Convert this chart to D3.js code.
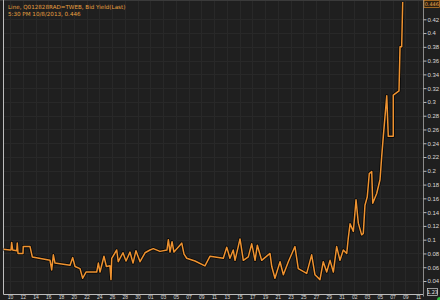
<!DOCTYPE html>
<html>
<head>
<meta charset="utf-8">
<script src="https://cdn.jsdelivr.net/npm/d3@7"></script>
<style>
  html, body { margin: 0; padding: 0; background: #1f1f1f; overflow: hidden; }
  svg { display: block; font-family: "DejaVu Sans", sans-serif; }
</style>
</head>
<body>
<div id="chart"></div>
<script>
// title lines
const titleLines = ['Line, Q012828RAD=TWEB, Bid Yield(Last)', '5:30 PM 10/8/2013, 0.446'];

// x axis tick labels (day of month)
const xLabels = ['10','12','14','16','18','20','22','24','26','28','30',
  '01','03','05','07','09','11','13','15','17','19','21','23','25','27','29','31',
  '02','03','05','07','09','11'];

// position of each point along the date axis (in tick units) and bid yield
const tPos = [-0.53, 0, 0.08, 0.13, 0.21, 0.53, 0.57, 0.63, 1.02, 1.04, 1.57, 1.75,
  3.14, 3.27, 3.40, 3.53, 4.71, 4.92, 5.10, 5.49, 5.70, 5.96, 6.80, 6.93, 7.06, 7.37,
  7.56, 7.84, 7.92, 7.98, 8.37, 8.49, 8.86, 9.10, 9.41, 9.65, 9.88, 10.20, 10.59, 10.98,
  11.24, 11.76, 12.31, 12.42, 12.55, 12.71, 12.86, 13.33, 13.47, 13.65, 13.86, 14.51,
  15.29, 15.69, 16.73, 17.00, 17.25, 17.51, 17.65, 18.04, 18.30, 18.69, 18.96, 19.22,
  19.40, 19.74, 20.39, 20.53, 20.78, 21.18, 21.44, 21.83, 22.35, 22.61, 23.27, 23.66,
  23.92, 24.31, 24.57, 24.84, 25.10, 25.36, 25.62, 25.88, 26.14, 26.41, 26.53, 26.67,
  26.93, 27.14, 27.32, 27.58, 27.71, 27.84, 28.02, 28.18, 28.37, 28.45, 28.76, 29.02,
  29.15, 29.28, 29.55, 29.67, 30.06, 30.06, 30.51, 30.59, 30.72, 30.80];

const bidYield = [0.086, 0.085, 0.085, 0.096, 0.085, 0.084, 0.095, 0.080, 0.080, 0.090, 0.090, 0.075,
  0.070, 0.056, 0.078, 0.066, 0.063, 0.074, 0.061, 0.058, 0.044, 0.053, 0.053, 0.066, 0.053, 0.076,
  0.061, 0.062, 0.042, 0.073, 0.085, 0.068, 0.081, 0.069, 0.082, 0.066, 0.084, 0.068, 0.081, 0.085,
  0.087, 0.083, 0.085, 0.100, 0.082, 0.097, 0.082, 0.092, 0.095, 0.079, 0.073, 0.069,
  0.062, 0.076, 0.073, 0.089, 0.073, 0.085, 0.070, 0.101, 0.070, 0.075, 0.094, 0.070,
  0.092, 0.070, 0.080, 0.061, 0.044, 0.068, 0.049, 0.068, 0.090, 0.058, 0.051, 0.078,
  0.049, 0.042, 0.068, 0.053, 0.070, 0.053, 0.090, 0.070, 0.085, 0.080, 0.102, 0.123,
  0.112, 0.158, 0.124, 0.107, 0.109, 0.150, 0.162, 0.196, 0.199, 0.153, 0.167, 0.187,
  0.220, 0.250, 0.309, 0.250, 0.250, 0.310, 0.316, 0.380, 0.380, 0.445];

// y axis ticks
const yTicks = d3.range(0.04, 0.4201, 0.02).map(d => +d.toFixed(2));
const lastValue = 0.446;

const width = 440, height = 300;
const plotLeft = 3.5, plotRight = 423.5, plotTop = 0, plotBottom = 294.5;

const svg = d3.select('#chart').append('svg')
    .attr('width', width)
    .attr('height', height);

svg.append('rect')
    .attr('width', width).attr('height', height)
    .attr('fill', '#1f1f1f');

const xScale = d3.scaleLinear()
    .domain([0, xLabels.length - 1])
    .range([10, 418]);

const yScale = d3.scaleLinear()
    .domain([0.04, 0.448])
    .range([281, 0]);

/* grid lines */
svg.append('g')
    .selectAll('line')
    .data(xLabels)
    .join('line')
    .attr('x1', (d, i) => Math.round(xScale(i)) + 0.5)
    .attr('x2', (d, i) => Math.round(xScale(i)) + 0.5)
    .attr('y1', plotTop).attr('y2', plotBottom)
    .attr('stroke', '#282828');

svg.append('g')
    .selectAll('line')
    .data(yTicks)
    .join('line')
    .attr('x1', plotLeft).attr('x2', plotRight)
    .attr('y1', d => Math.round(yScale(d)) + 0.5)
    .attr('y2', d => Math.round(yScale(d)) + 0.5)
    .attr('stroke', '#282828');

/* frame */
svg.append('line').attr('x1', 0).attr('x2', plotRight).attr('y1', 0.5).attr('y2', 0.5).attr('stroke', '#3a3a3a');
svg.append('line').attr('x1', plotLeft).attr('x2', plotLeft).attr('y1', 0).attr('y2', plotBottom).attr('stroke', '#bdbdbd');
svg.append('line').attr('x1', plotLeft).attr('x2', plotRight).attr('y1', plotBottom).attr('y2', plotBottom).attr('stroke', '#bdbdbd');
svg.append('line').attr('x1', plotRight).attr('x2', plotRight).attr('y1', 0).attr('y2', plotBottom + 2).attr('stroke', '#8a8a8a');

/* the line */
svg.append('clipPath').attr('id', 'plotclip')
    .append('rect').attr('x', plotLeft).attr('y', 0).attr('width', plotRight - plotLeft).attr('height', plotBottom);

const points = tPos.map((t, i) => [t, bidYield[i]]);
const line = d3.line()
    .x(d => xScale(d[0]))
    .y(d => yScale(d[1]));

svg.append('path')
    .datum(points)
    .attr('clip-path', 'url(#plotclip)')
    .attr('fill', 'none')
    .attr('stroke', '#0a0a0a')
    .attr('stroke-width', 3.2)
    .attr('stroke-linejoin', 'round')
    .attr('d', line);

svg.append('path')
    .datum(points)
    .attr('clip-path', 'url(#plotclip)')
    .attr('fill', 'none')
    .attr('stroke', '#ee9230')
    .attr('stroke-width', 1.5)
    .attr('stroke-linejoin', 'round')
    .attr('d', line);

/* y axis on the right */
const yAxis = d3.axisRight(yScale)
    .tickValues(yTicks)
    .tickSize(3)
    .tickPadding(1)
    .tickFormat(d => String(+d.toFixed(2)));

const yg = svg.append('g')
    .attr('transform', `translate(${plotRight},0)`)
    .call(yAxis);
yg.select('.domain').remove();
yg.selectAll('line').attr('stroke', '#bbbbbb');
yg.selectAll('text')
    .attr('fill', '#d8d8d8')
    .style('font-size', '6px');

/* last value marker */
svg.append('rect')
    .attr('x', plotRight + 0.5).attr('y', 0.5)
    .attr('width', 15.5).attr('height', 7)
    .attr('fill', '#2a1f10')
    .attr('stroke', '#f0962e')
    .attr('stroke-width', 0.6);
svg.append('text')
    .attr('x', plotRight + 8.3).attr('y', 6)
    .attr('text-anchor', 'middle')
    .attr('fill', '#f0a850')
    .style('font-size', '5px')
    .text(lastValue);

/* x axis labels */
const xAxis = d3.axisBottom(xScale)
    .tickValues(d3.range(xLabels.length))
    .tickSize(1)
    .tickPadding(0)
    .tickFormat((d, i) => xLabels[i]);

const xg = svg.append('g')
    .attr('transform', `translate(0,${plotBottom})`)
    .call(xAxis);
xg.select('.domain').remove();
xg.selectAll('line').attr('stroke', '#bbbbbb');
xg.selectAll('text')
    .attr('fill', '#d8d8d8')
    .style('font-size', '5px');

/* zoom box and status dot in the corner */
svg.append('rect')
    .attr('x', 427.5).attr('y', 288.5).attr('width', 10).attr('height', 7)
    .attr('fill', '#1f1f1f').attr('stroke', '#d0d0d0').attr('stroke-width', 0.7);
svg.append('text')
    .attr('x', 432.5).attr('y', 294.3)
    .attr('text-anchor', 'middle')
    .attr('fill', '#e0e0e0')
    .style('font-size', '5px')
    .text('1.23');
svg.append('circle')
    .attr('cx', 440).attr('cy', 300).attr('r', 3)
    .attr('fill', '#2fbf3f');

/* title */
svg.append('g')
    .selectAll('text')
    .data(titleLines)
    .join('text')
    .attr('x', 8)
    .attr('y', (d, i) => 9 + i * 7)
    .attr('fill', '#e8a040')
    .style('font-size', '5.6px')
    .text(d => d);
</script>
</body>
</html>
